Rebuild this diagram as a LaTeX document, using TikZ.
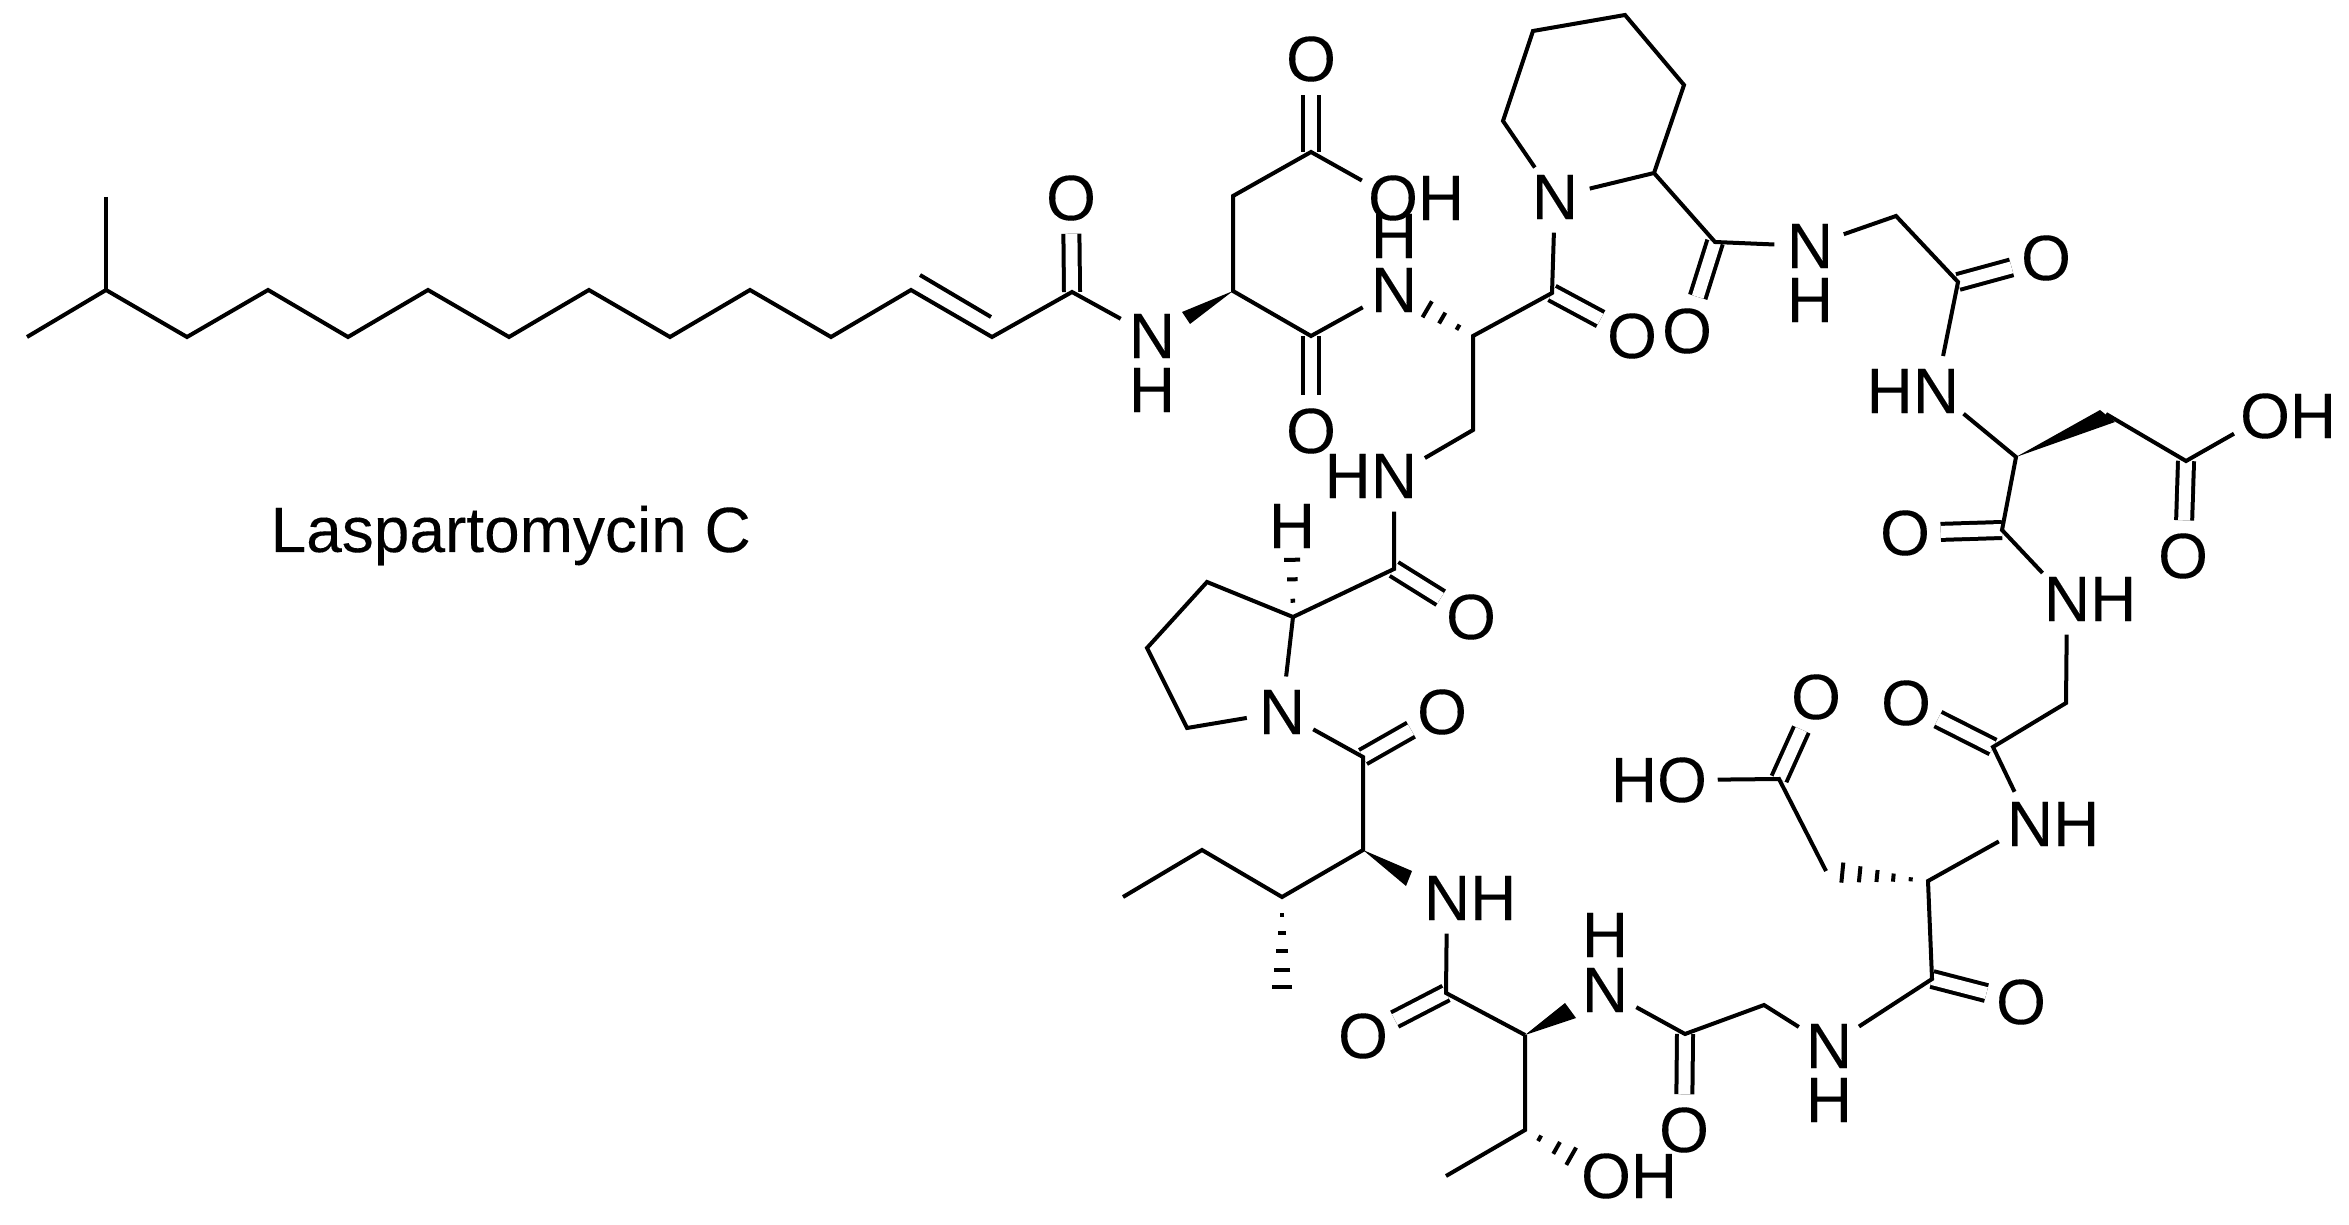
\documentclass[tikz,border=0pt]{standalone}
\usepackage{fontspec}
\setmainfont{Liberation Sans}
\newfontfamily\atomfont[FakeBold=0.12]{Liberation Sans}
\usetikzlibrary{calc}
\tikzset{
  atom/.style={circle, inner sep=0pt, minimum size=0.7cm, font=\atomfont\fontsize{18.2}{20}\selectfont},
  bond/.style={line width=0.04cm, line join=miter},
  dbl/.style={line width=0.04cm, double, double distance=0.12cm},
  hashline/.style={line width=0.04cm},
}
\newcommand{\hashbond}[4]{
  \foreach \t in {#4}
    \draw[hashline] ($(#1)!\t!(#2)!{\t*#3}!90:(#2)$) -- ($(#1)!\t!(#2)!{\t*#3}!-90:(#2)$);
}
\begin{document}
\begin{tikzpicture}[x=0.01cm, y=-0.01cm]
\useasboundingbox (0, 0) rectangle (2349, 1225);

\coordinate (me1) at (27, 337);
\coordinate (me2) at (106, 197);
\coordinate (ch1) at (106, 290);
\coordinate (ch2) at (187, 337);
\coordinate (ch3) at (268, 290);
\coordinate (ch4) at (348, 337);
\coordinate (ch5) at (428, 290);
\coordinate (ch6) at (509, 337);
\coordinate (ch7) at (589, 290);
\coordinate (ch8) at (670, 337);
\coordinate (ch9) at (750, 290);
\coordinate (ch10) at (831, 337);
\coordinate (ch11) at (911, 290);
\coordinate (ch12) at (992, 337);
\coordinate (co1) at (1072, 292);
\coordinate (db1) at (920, 275);
\coordinate (db2) at (991, 317);

\coordinate (asp1a) at (1233, 291);
\coordinate (asp1b) at (1233, 196);
\coordinate (asp1c) at (1311, 152);
\coordinate (co2) at (1311, 336);
\coordinate (dap) at (1473, 336);
\coordinate (dapb) at (1473, 430);
\coordinate (co3) at (1552, 293);
\coordinate (pip1) at (1654, 173);
\coordinate (pip2) at (1684, 85);
\coordinate (pip3) at (1625, 15);
\coordinate (pip4) at (1533, 31);
\coordinate (pip5) at (1503, 121);
\coordinate (co4) at (1715, 242);
\coordinate (gly1) at (1896, 216);
\coordinate (co5) at (1958, 282);
\coordinate (asp2a) at (2016, 457);
\coordinate (asp2b) at (2106, 414);
\coordinate (asp2c) at (2186, 461);
\coordinate (co6) at (2002, 530);
\coordinate (gly2) at (2066, 703);
\coordinate (co7) at (1993, 747);
\coordinate (asp3a) at (1928, 881);
\coordinate (asp3b) at (1826, 871);
\coordinate (asp3c) at (1779, 779);
\coordinate (co8) at (1932, 979);
\coordinate (gly3) at (1764, 1005);
\coordinate (co9) at (1685, 1034);
\coordinate (thr1) at (1525, 1035);
\coordinate (thr2) at (1525, 1130);
\coordinate (thr3) at (1446, 1176);
\coordinate (co10) at (1446, 993);
\coordinate (ile1) at (1363, 850);
\coordinate (ile2) at (1282, 897);
\coordinate (ile3) at (1202, 850);
\coordinate (ile4) at (1123, 897);
\coordinate (ile5) at (1282, 992);
\coordinate (co11) at (1363, 757);
\coordinate (pro1) at (1293, 617);
\coordinate (pro2) at (1207, 582);
\coordinate (pro3) at (1147, 648);
\coordinate (pro4) at (1187, 728);
\coordinate (pro5) at (1292, 552);
\coordinate (co12) at (1394, 569);

\node[atom] (o1) at (1071, 198) {O};
\node[atom] (n1) at (1152, 336) {N};
\node[atom] (h1) at (1152, 390) {H};
\node[atom] (o2) at (1311, 59) {O};
\node[atom] (oh1) at (1393, 198) {O\rlap{H}};
\node[atom] (o3) at (1311, 431) {O};
\node[atom] (n2) at (1394, 290) {N};
\node[atom] (h2) at (1394, 236) {H};
\node[atom] (n3) at (1555, 197) {N};
\node[atom] (o4) at (1632, 336) {O};
\node[atom] (o5) at (1687, 331) {O};
\node[atom] (n4) at (1810, 246) {N};
\node[atom] (h4) at (1810, 300) {H};
\node[atom] (o6) at (2046, 258) {O};
\node[atom] (n5) at (1936, 391) {\llap{H}N};
\node[atom] (oh2) at (2265, 416) {O\rlap{H}};
\node[atom] (o7) at (2183, 556) {O};
\node[atom] (o8) at (1905, 533) {O};
\node[atom] (n6) at (2067, 599) {N\rlap{H}};
\node[atom] (o9) at (1906, 703) {O};
\node[atom] (n7) at (2030, 824) {N\rlap{H}};
\node[atom] (oh3) at (1682, 780) {\llap{H}O};
\node[atom] (o10) at (1816, 697) {O};
\node[atom] (o11) at (2021, 1002) {O};
\node[atom] (n8) at (1829, 1046) {N};
\node[atom] (h8) at (1829, 1100) {H};
\node[atom] (o12) at (1684, 1130) {O};
\node[atom] (n9) at (1605, 990) {N};
\node[atom] (h9) at (1605, 935) {H};
\node[atom] (oh4) at (1606, 1176) {O\rlap{H}};
\node[atom] (o13) at (1363, 1036) {O};
\node[atom] (n10) at (1447, 898) {N\rlap{H}};
\node[atom] (o14) at (1442, 712) {O};
\node[atom] (n11) at (1282, 712) {N};
\node[atom] (o15) at (1471, 617) {O};
\node[atom] (h15) at (1292, 526) {H};
\node[atom] (n12) at (1394, 476) {\llap{H}N};
\node[atom, anchor=base west] (name) at (269, 552) {Laspartomycin C};

\draw[dbl] (co1) -- (o1);
\draw[dbl] (asp1c) -- (o2);
\draw[dbl] (co2) -- (o3);
\draw[dbl] (co3) -- (o4);
\draw[dbl] (co4) -- (o5);
\draw[dbl] (co5) -- (o6);
\draw[dbl] (asp2c) -- (o7);
\draw[dbl] (co6) -- (o8);
\draw[dbl] (co7) -- (o9);
\draw[dbl] (asp3c) -- (o10);
\draw[dbl] (co8) -- (o11);
\draw[dbl] (co9) -- (o12);
\draw[dbl] (co10) -- (o13);
\draw[dbl] (co11) -- (o14);
\draw[dbl] (co12) -- (o15);

\draw[bond] (me1) -- (ch1) -- (ch2) -- (ch3) -- (ch4) -- (ch5) -- (ch6) -- (ch7) -- (ch8) -- (ch9) -- (ch10) -- (ch11) -- (ch12) -- (co1) -- (n1);
\draw[bond] (me2) -- (ch1);
\draw[bond] (db1) -- (db2);
\draw[bond] (n2) -- (co2) -- (asp1a) -- (asp1b) -- (asp1c) -- (oh1);
\draw[bond] (n3) -- (co3) -- (dap) -- (dapb) -- (n12);
\draw[bond] (n12) -- (co12) -- (pro1) -- (pro2) -- (pro3) -- (pro4) -- (n11) -- (pro1);
\draw[bond] (n3) -- (pip5) -- (pip4) -- (pip3) -- (pip2) -- (pip1) -- (n3);
\draw[bond] (pip1) -- (co4) -- (n4) -- (gly1) -- (co5) -- (n5) -- (asp2a) -- (co6) -- (n6) -- (gly2) -- (co7) -- (n7) -- (asp3a) -- (co8) -- (n8) -- (gly3) -- (co9) -- (n9);
\draw[bond] (asp2b) -- (asp2c) -- (oh2);
\draw[bond] (asp3b) -- (asp3c) -- (oh3);
\draw[bond] (thr1) -- (co10) -- (n10);
\draw[bond] (thr1) -- (thr2) -- (thr3);
\draw[bond] (n11) -- (co11) -- (ile1) -- (ile2) -- (ile3) -- (ile4);

\fill (asp1a) -- (1182, 312) -- (1190, 324) -- cycle;
\fill (asp2a) -- (2100, 410) -- (2115, 422) -- cycle;
\fill (ile1) -- (1412, 871) -- (1406, 886) -- cycle;
\fill (thr1) -- (1565, 1003) -- (1576, 1018) -- cycle;

\hashbond{pro1}{pro5}{0.09cm}{0.25, 0.58, 0.88}
\hashbond{ile2}{ile5}{0.105cm}{0.19, 0.38, 0.57, 0.77, 0.95}
\hashbond{dap}{n2}{0.16cm}{0.19, 0.39, 0.58}
\hashbond{asp3a}{asp3b}{0.12cm}{0.17, 0.34, 0.5, 0.67, 0.84}
\hashbond{thr2}{oh4}{0.175cm}{0.18, 0.39, 0.57}
\end{tikzpicture}
\end{document}
